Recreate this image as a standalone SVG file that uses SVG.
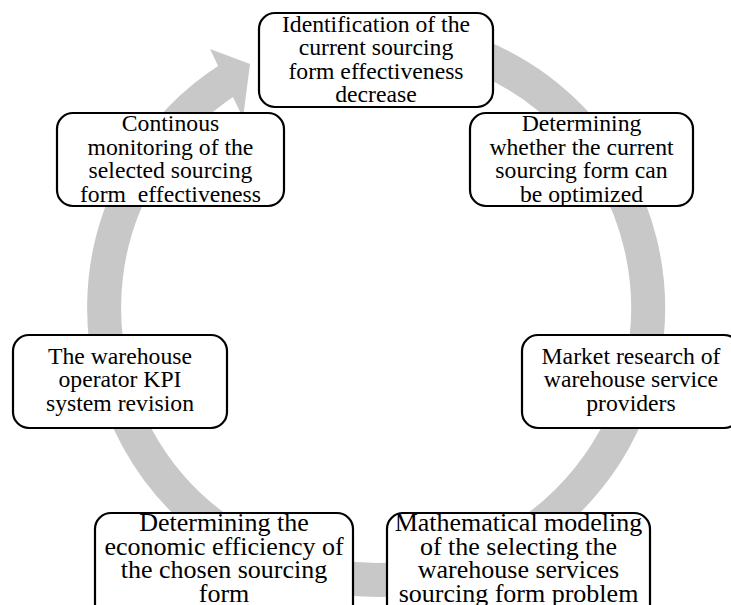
<svg xmlns="http://www.w3.org/2000/svg" width="731" height="605" viewBox="0 0 731 605">
<style>
.box{fill:#ffffff;stroke:#000000;stroke-width:2.2}
.t{font-family:"Liberation Serif","Times New Roman",serif;font-size:23.7px;text-anchor:middle;fill:#000000}
.tb{font-size:26px}
.ring{fill:none;stroke:#c8c8c8;stroke-width:34}
.head{fill:#c8c8c8;stroke:none}
</style>
<rect x="0" y="0" width="731" height="605" fill="#ffffff"/>
<g id="connectors">
<path class="ring" d="M 328.8 40.1 A 272 272 0 1 1 229.9 78.6"/>
<polygon class="head" points="210,49 250,64 243,118"/>
</g>
<g id="node1">
<rect class="box" x="259" y="13" width="234" height="94" rx="16"/>
<text class="t"><tspan x="376" y="31.5">Identification of the</tspan><tspan x="376" y="55">current sourcing</tspan><tspan x="376" y="78.5">form effectiveness</tspan><tspan x="376" y="102">decrease</tspan></text>
</g>
<g id="node2">
<rect class="box" x="470" y="113" width="223" height="93" rx="16"/>
<text class="t"><tspan x="581.5" y="131">Determining</tspan><tspan x="581.5" y="154.5">whether the current</tspan><tspan x="581.5" y="178">sourcing form can</tspan><tspan x="581.5" y="201.5">be optimized</tspan></text>
</g>
<g id="node3">
<rect class="box" x="522" y="335" width="218" height="93" rx="16"/>
<text class="t"><tspan x="631" y="363.5">Market research of</tspan><tspan x="631" y="387">warehouse service</tspan><tspan x="631" y="410.5">providers</tspan></text>
</g>
<g id="node4">
<rect class="box" x="387" y="513" width="263" height="110" rx="16"/>
<text class="t tb"><tspan x="518.5" y="531">Mathematical modeling</tspan><tspan x="518.5" y="554.5">of the selecting the</tspan><tspan x="518.5" y="578">warehouse services</tspan><tspan x="518.5" y="601.5">sourcing form problem</tspan></text>
</g>
<g id="node5">
<rect class="box" x="95" y="513" width="258" height="110" rx="16"/>
<text class="t tb"><tspan x="224" y="531">Determining the</tspan><tspan x="224" y="554.5">economic efficiency of</tspan><tspan x="224" y="578">the chosen sourcing</tspan><tspan x="224" y="601.5">form</tspan></text>
</g>
<g id="node6">
<rect class="box" x="13" y="335" width="214" height="93" rx="16"/>
<text class="t"><tspan x="120" y="363.5">The warehouse</tspan><tspan x="120" y="387">operator KPI</tspan><tspan x="120" y="410.5">system revision</tspan></text>
</g>
<g id="node7">
<rect class="box" x="57" y="113" width="227" height="93" rx="16"/>
<text class="t"><tspan x="170.5" y="131">Continous</tspan><tspan x="170.5" y="154.5">monitoring of the</tspan><tspan x="170.5" y="178">selected sourcing</tspan></text>
<text class="t" xml:space="preserve" x="170.5" y="201.5">form  effectiveness</text>
</g>
</svg>
